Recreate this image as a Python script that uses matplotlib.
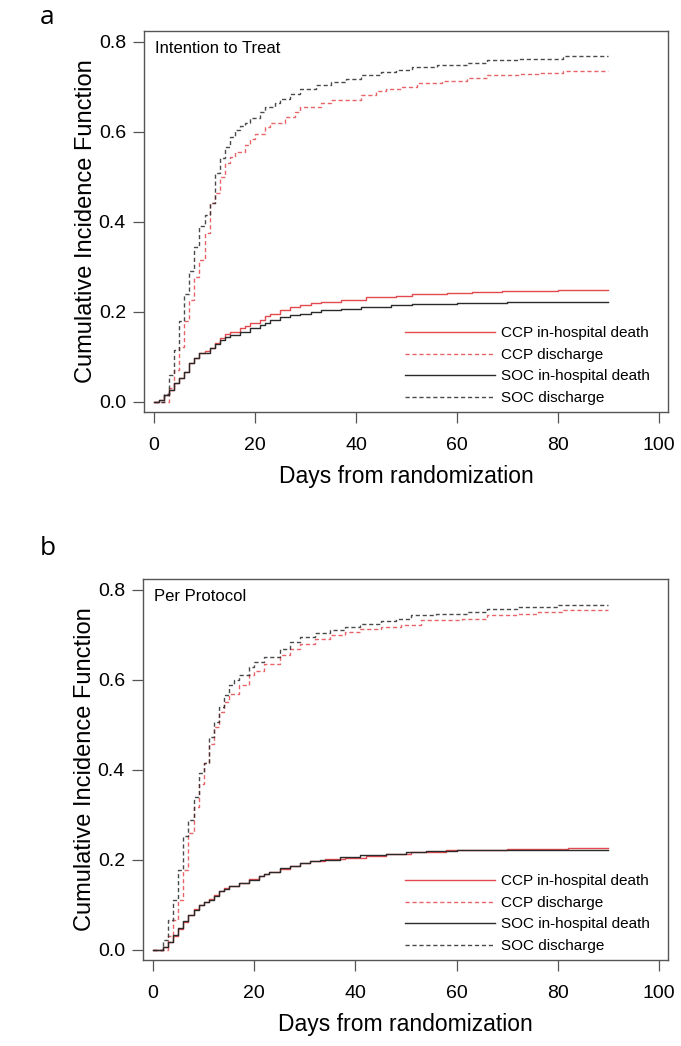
# Cumulative incidence of in-hospital death / discharge, CCP vs SOC
import matplotlib
matplotlib.use('Agg')
import matplotlib.pyplot as plt

plt.rcParams['font.family'] = ['Liberation Sans', 'DejaVu Sans']

fu_end = 90  # days of follow-up

# ---- panel a : intention to treat ----
itt_ccp_death_t = [0, 1, 2, 3, 4, 5, 6, 7, 8, 9, 10, 11, 12, 13, 14, 15, 17, 18, 19, 21, 22, 23, 25, 27, 29, 31, 33, 37, 42, 48, 51, 58, 63, 69, 74, 80]
itt_ccp_death = [0, 0.004, 0.015, 0.026, 0.041, 0.052, 0.067, 0.086, 0.097, 0.108, 0.112, 0.120, 0.130, 0.141, 0.150, 0.156, 0.163, 0.168, 0.174, 0.182, 0.190, 0.196, 0.204, 0.210, 0.215, 0.219, 0.222, 0.226, 0.232, 0.236, 0.239, 0.241, 0.243, 0.245, 0.247, 0.248]

itt_soc_death_t = [0, 1, 2, 3, 4, 5, 6, 7, 8, 9, 11, 12, 13, 14, 15, 17, 19, 21, 22, 23, 25, 27, 29, 31, 33, 37, 41, 47, 51, 60, 70, 74]
itt_soc_death = [0, 0.004, 0.015, 0.026, 0.041, 0.052, 0.067, 0.086, 0.097, 0.108, 0.119, 0.128, 0.137, 0.143, 0.148, 0.156, 0.163, 0.170, 0.176, 0.182, 0.189, 0.193, 0.196, 0.200, 0.204, 0.206, 0.211, 0.214, 0.217, 0.219, 0.221, 0.222]

itt_ccp_disc_t = [0, 3, 4, 5, 6, 7, 8, 9, 10, 11, 12, 13, 14, 15, 16, 18, 19, 20, 22, 23, 26, 28, 29, 33, 35, 41, 44, 46, 49, 52, 57, 62, 66, 72, 76, 81]
itt_ccp_disc = [0, 0.030, 0.070, 0.122, 0.180, 0.226, 0.278, 0.315, 0.374, 0.441, 0.463, 0.500, 0.530, 0.545, 0.556, 0.570, 0.585, 0.596, 0.610, 0.619, 0.633, 0.645, 0.656, 0.665, 0.670, 0.682, 0.690, 0.696, 0.700, 0.708, 0.713, 0.719, 0.726, 0.729, 0.731, 0.736]

itt_soc_disc_t = [0, 2, 3, 4, 5, 6, 7, 8, 9, 10, 11, 12, 13, 14, 15, 16, 17, 18, 19, 21, 22, 24, 25, 27, 29, 32, 35, 38, 41, 45, 48, 51, 56, 62, 66, 72, 76, 81]
itt_soc_disc = [0, 0.018, 0.060, 0.115, 0.180, 0.240, 0.290, 0.344, 0.390, 0.415, 0.441, 0.508, 0.541, 0.567, 0.589, 0.604, 0.612, 0.620, 0.630, 0.645, 0.656, 0.665, 0.674, 0.685, 0.696, 0.703, 0.711, 0.718, 0.726, 0.733, 0.737, 0.744, 0.748, 0.752, 0.759, 0.761, 0.763, 0.768]

# ---- panel b : per protocol ----
pp_ccp_death_t = [0, 2, 3, 4, 5, 6, 7, 8, 9, 10, 11, 12, 13, 14, 15, 17, 19, 21, 22, 23, 25, 27, 29, 31, 34, 38, 42, 46, 51, 58, 70, 82]
pp_ccp_death = [0, 0.006, 0.016, 0.031, 0.047, 0.062, 0.078, 0.090, 0.100, 0.106, 0.112, 0.121, 0.130, 0.137, 0.142, 0.149, 0.157, 0.163, 0.169, 0.173, 0.180, 0.187, 0.192, 0.197, 0.201, 0.204, 0.209, 0.212, 0.218, 0.221, 0.223, 0.226]

pp_soc_death_t = [0, 2, 3, 4, 5, 6, 7, 8, 9, 10, 11, 12, 13, 14, 15, 17, 19, 21, 22, 23, 25, 27, 29, 31, 33, 37, 41, 46, 50, 54, 60, 70]
pp_soc_death = [0, 0.007, 0.018, 0.033, 0.048, 0.063, 0.078, 0.089, 0.100, 0.105, 0.111, 0.120, 0.130, 0.136, 0.141, 0.148, 0.156, 0.163, 0.168, 0.172, 0.181, 0.187, 0.193, 0.197, 0.200, 0.205, 0.210, 0.213, 0.217, 0.219, 0.221, 0.222]

pp_ccp_disc_t = [0, 3, 4, 5, 6, 7, 8, 9, 10, 11, 12, 13, 14, 15, 17, 19, 20, 22, 25, 27, 29, 32, 35, 38, 41, 45, 49, 53, 61, 66, 72, 76, 81]
pp_ccp_disc = [0, 0.030, 0.067, 0.111, 0.178, 0.259, 0.317, 0.369, 0.414, 0.458, 0.495, 0.528, 0.551, 0.569, 0.588, 0.610, 0.620, 0.636, 0.655, 0.668, 0.680, 0.690, 0.699, 0.706, 0.714, 0.718, 0.721, 0.732, 0.736, 0.743, 0.747, 0.751, 0.756]

pp_soc_disc_t = [0, 2, 3, 4, 5, 6, 7, 8, 9, 10, 11, 12, 13, 14, 15, 16, 17, 19, 20, 22, 25, 27, 29, 32, 35, 38, 41, 45, 48, 51, 56, 62, 66, 72, 76, 80]
pp_soc_disc = [0, 0.022, 0.067, 0.111, 0.178, 0.252, 0.289, 0.340, 0.392, 0.414, 0.473, 0.506, 0.540, 0.566, 0.588, 0.600, 0.610, 0.628, 0.640, 0.651, 0.669, 0.683, 0.695, 0.703, 0.710, 0.718, 0.725, 0.731, 0.736, 0.743, 0.747, 0.751, 0.758, 0.761, 0.763, 0.767]

labels = ['CCP in-hospital death', 'CCP discharge', 'SOC in-hospital death', 'SOC discharge']
red = '#e34a4f'
blk = '#2a2a2a'
dash = (3, 2)

panels = [
    ('a', 'Intention to Treat', [0.2115, 0.6061, 0.7695, 0.3642], 0.983,
     [(itt_ccp_death_t, itt_ccp_death), (itt_ccp_disc_t, itt_ccp_disc),
      (itt_soc_death_t, itt_soc_death), (itt_soc_disc_t, itt_soc_disc)]),
    ('b', 'Per Protocol', [0.2100, 0.0822, 0.7710, 0.3642], 0.476,
     [(pp_ccp_death_t, pp_ccp_death), (pp_ccp_disc_t, pp_ccp_disc),
      (pp_soc_death_t, pp_soc_death), (pp_soc_disc_t, pp_soc_disc)]),
]

fig = plt.figure(figsize=(6.81, 10.46), dpi=100)

for letter, title, rect, ylet, series in panels:
    ax = fig.add_axes(rect)
    styles = [(red, '-'), (red, '--'), (blk, '-'), (blk, '--')]
    for (t, v), (c, ls), lab in zip(series, styles, labels):
        tt = list(t) + [fu_end]
        vv = list(v) + [v[-1]]
        line, = ax.step(tt, vv, where='post', color=c, lw=1.0, label=lab)
        if ls == '--':
            line.set_dashes(dash)
            line.set_alpha(0.85)

    ax.set_xlim(-1.98, 101.8)
    ax.set_ylim(-0.023, 0.824)
    ax.set_xticks([0, 20, 40, 60, 80, 100])
    ax.set_yticks([0.0, 0.2, 0.4, 0.6, 0.8])
    ax.set_yticklabels(['0.0', '0.2', '0.4', '0.6', '0.8'])
    ax.tick_params(direction='out', length=8, width=0.9, color='#555555', labelsize=14)
    ax.tick_params(axis='x', pad=10)
    ax.tick_params(axis='y', pad=5)
    for sp in ax.spines.values():
        sp.set_color('#555555')
        sp.set_linewidth(1.0)
    ax.set_xlabel('Days from randomization', fontsize=16.5, labelpad=8)
    ax.set_ylabel('Cumulative Incidence Function', fontsize=17, labelpad=1)

    ax.text(0.02, 0.955, title, transform=ax.transAxes, fontsize=12, va='center', ha='left')

    leg = ax.legend(loc='lower right', bbox_to_anchor=(0.985, -0.01), frameon=False,
                    fontsize=11, handlelength=5.9, handletextpad=0.35, labelspacing=0.5,
                    borderpad=0.2)

    fig.text(0.058, ylet, letter, fontsize=19,
             family=['Open Sans', 'DejaVu Sans'], va='center')

fig.savefig('out.png', dpi=100)
